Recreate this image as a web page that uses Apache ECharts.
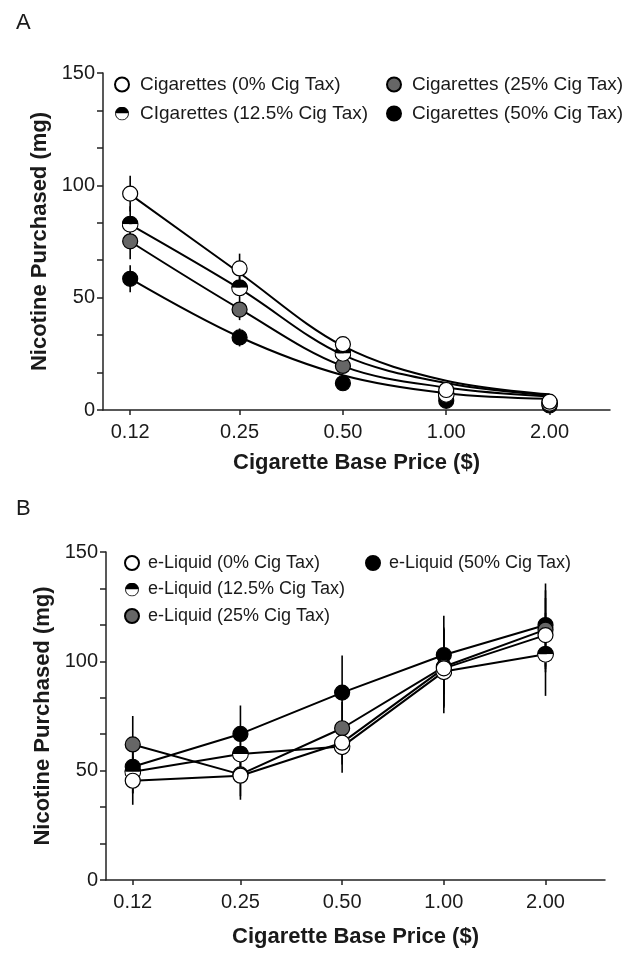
<!DOCTYPE html>
<html>
<head>
<meta charset="utf-8">
<script src="https://cdn.jsdelivr.net/npm/echarts@6/dist/echarts.min.js"></script>
<style>
html,body{margin:0;padding:0;background:#fff;}
#chart{width:624px;height:954px;}
</style>
</head>
<body>
<div id="chart"></div>
<script>
// ---------- data ----------
const prices = [0.12, 0.25, 0.50, 1.00, 2.00];
const priceLabels = ['0.12', '0.25', '0.50', '1.00', '2.00'];

// Panel A – cigarettes (observed means)
const cigNames = ['Cigarettes (0% Cig Tax)', 'CIgarettes (12.5% Cig Tax)', 'Cigarettes (25% Cig Tax)', 'Cigarettes (50% Cig Tax)'];
const cig0  = [96.3, 63.0, 29.3, 8.9, 3.7];
const cig12 = [82.7, 54.4, 25.2, 7.0, 3.0];
const cig25 = [75.1, 44.7, 19.6, 6.5, 2.5];
const cig50 = [58.4, 32.3, 11.9, 4.1, 2.0];
// Panel A – error (SEM)
const cigErr0  = [8, 6.6, 3, 1.5, 1];
const cigErr12 = [8, 5, 2.5, 1.5, 1];
const cigErr25 = [8, 4.7, 2.5, 1.5, 1];
const cigErr50 = [6, 4, 2, 1, 1];
// Panel A – fitted demand curves (read at each price)
const cigFit0  = [96, 61, 28.5, 13, 7];
const cigFit12 = [82.5, 54, 24.5, 12, 6.5];
const cigFit25 = [75, 45, 19.5, 10, 6];
const cigFit50 = [58.5, 32.5, 15.5, 7.5, 5];

// Panel B – e-liquid
const liqNames = ['e-Liquid (0% Cig Tax)', 'e-Liquid (12.5% Cig Tax)', 'e-Liquid (25% Cig Tax)', 'e-Liquid (50% Cig Tax)'];
const liq0  = [45.4, 47.7, 62.8, 96.8, 112.0];
const liq12 = [49.5, 57.6, 61.0, 95.3, 103.2];
const liq25 = [62.0, 48.3, 69.4, 97.5, 114.5];
const liq50 = [51.8, 66.8, 85.7, 102.9, 116.6];
const liqErr0  = [11, 11, 10, 18, 17];
const liqErr12 = [10, 10, 12, 19, 19];
const liqErr25 = [13, 10, 12, 18, 18];
const liqErr50 = [12, 13, 17, 18, 19];

const yMin = 0, yMax = 150, yStep = 50;

// ---------- styles ----------
const FONT = "'Liberation Sans', Arial, Helvetica, sans-serif";
const TXT = '#1a1a1a';
const halfSvg = "<svg xmlns='http://www.w3.org/2000/svg' width='40' height='40' viewBox='0 0 40 40'>" +
  "<path d='M1,20 A19,19 0 0 1 39,20 Z' fill='#000'/>" +
  "<path d='M1,20 A19,19 0 0 0 39,20 Z' fill='#fff'/>" +
  "<circle cx='20' cy='20' r='18.6' fill='none' stroke='#000' stroke-width='2.6'/></svg>";
const HALF = 'image://data:image/svg+xml;charset=utf-8,' + encodeURIComponent(halfSvg);

const markerStyles = [
  {symbol: 'circle', symbolSize: 15, itemStyle: {color: '#fff', borderColor: '#000', borderWidth: 1.2, opacity: 1}},
  {symbol: HALF, symbolSize: 17, itemStyle: {color: '#000', borderColor: '#000', borderWidth: 0, opacity: 1}},
  {symbol: 'circle', symbolSize: 15, itemStyle: {color: '#666', borderColor: '#000', borderWidth: 1.2, opacity: 1}},
  {symbol: 'circle', symbolSize: 15, itemStyle: {color: '#000', borderColor: '#000', borderWidth: 1.2, opacity: 1}}
];

function pts(vals) { return prices.map((p, i) => [p, vals[i]]); }
function errPts(vals, errs) { return prices.map((p, i) => [p, vals[i] - errs[i], vals[i] + errs[i]]); }

function errSeries(gi, vals, errs) {
  return {
    type: 'custom', xAxisIndex: gi, yAxisIndex: gi, z: 1, silent: true,
    data: errPts(vals, errs),
    renderItem: function (params, api) {
      const a = api.coord([api.value(0), api.value(1)]);
      const b = api.coord([api.value(0), api.value(2)]);
      return {type: 'line', shape: {x1: a[0], y1: a[1], x2: b[0], y2: b[1]},
        style: {stroke: '#000', lineWidth: 1.6}};
    }
  };
}
function lineSeries(gi, vals, smooth) {
  return {
    type: 'line', xAxisIndex: gi, yAxisIndex: gi, z: 2, silent: true,
    data: pts(vals), showSymbol: false, smooth: smooth ? 0.35 : false,
    lineStyle: {color: '#000', width: 2}
  };
}
function markerSeries(gi, name, vals, k) {
  return Object.assign({
    type: 'scatter', name: name, xAxisIndex: gi, yAxisIndex: gi, z: 10 - k,
    data: pts(vals), emphasis: {disabled: true}
  }, markerStyles[k]);
}

function xAxisDef(gi) {
  return {
    type: 'log', logBase: 2, min: 0.1, max: 3, gridIndex: gi,
    name: 'Cigarette Base Price ($)', nameLocation: 'middle', nameGap: gi === 0 ? 42 : 46,
    nameTextStyle: {fontFamily: FONT, fontSize: 22, fontWeight: 'bold', color: TXT},
    axisLine: {show: true, lineStyle: {color: '#222', width: 1.5}},
    axisTick: {show: true, length: 5, customValues: prices, lineStyle: {color: '#222', width: 1.5}},
    axisLabel: {customValues: prices, margin: 12, fontFamily: FONT, fontSize: 20, color: TXT,
      formatter: function (v) {
        for (let i = 0; i < prices.length; i++) if (Math.abs(prices[i] - v) < 1e-6) return priceLabels[i];
        return '';
      }},
    splitLine: {show: false}, minorTick: {show: false}, minorSplitLine: {show: false}
  };
}
function yAxisDef(gi) {
  return {
    type: 'value', min: yMin, max: yMax, interval: yStep, gridIndex: gi,
    name: 'Nicotine Purchased (mg)', nameLocation: 'middle', nameGap: 52,
    nameTextStyle: {fontFamily: FONT, fontSize: 22, fontWeight: 'bold', color: TXT},
    axisLine: {show: true, lineStyle: {color: '#222', width: 1.5}},
    axisTick: {show: true, length: 6, lineStyle: {color: '#222', width: 1.5}},
    minorTick: {show: true, splitNumber: 3, length: 6, lineStyle: {color: '#222', width: 1.5}},
    axisLabel: {margin: 8, fontFamily: FONT, fontSize: 20, color: TXT},
    splitLine: {show: false}
  };
}
function legendDef(left, top, names, gap, fs, pad) {
  return {
    left: left, top: top, orient: 'vertical', data: names, itemGap: gap,
    itemWidth: 14, itemHeight: 14, padding: 0, selectedMode: false,
    itemStyle: {opacity: 1},
    textStyle: {fontFamily: FONT, fontSize: fs, color: TXT, lineHeight: 18, padding: [0, 0, 0, pad]}
  };
}

const cigVals = [cig0, cig12, cig25, cig50];
const cigErrs = [cigErr0, cigErr12, cigErr25, cigErr50];
const cigFits = [cigFit0, cigFit12, cigFit25, cigFit50];
const liqVals = [liq0, liq12, liq25, liq50];
const liqErrs = [liqErr0, liqErr12, liqErr25, liqErr50];

const series = [];
for (let k = 0; k < 4; k++) series.push(errSeries(0, cigVals[k], cigErrs[k]));
for (let k = 0; k < 4; k++) series.push(lineSeries(0, cigFits[k], true));
for (let k = 0; k < 4; k++) series.push(markerSeries(0, cigNames[k], cigVals[k], k));
for (let k = 0; k < 4; k++) series.push(errSeries(1, liqVals[k], liqErrs[k]));
for (let k = 0; k < 4; k++) series.push(lineSeries(1, liqVals[k], false));
for (let k = 0; k < 4; k++) series.push(markerSeries(1, liqNames[k], liqVals[k], k));

const option = {
  animation: false,
  backgroundColor: '#fff',
  grid: [
    {left: 103, right: 14, top: 73, height: 337},
    {left: 106, right: 19, top: 552, height: 328}
  ],
  xAxis: [xAxisDef(0), xAxisDef(1)],
  yAxis: [yAxisDef(0), yAxisDef(1)],
  legend: [
    legendDef(114, 75, [cigNames[0], cigNames[1]], 10, 19, 6),
    legendDef(386, 75, [cigNames[2], cigNames[3]], 10, 19, 6),
    legendDef(124, 554, [liqNames[0], liqNames[1], liqNames[2]], 8.5, 18, 4),
    legendDef(365, 554, [liqNames[3]], 8.5, 18, 4)
  ],
  graphic: [
    {type: 'text', left: 16, top: 12, style: {text: 'A', fontFamily: FONT, fontSize: 22, fill: TXT}},
    {type: 'text', left: 16, top: 498, style: {text: 'B', fontFamily: FONT, fontSize: 22, fill: TXT}}
  ],
  series: series
};

const chart = echarts.init(document.getElementById('chart'), null, {renderer: 'canvas'});
chart.setOption(option);
</script>
</body>
</html>
